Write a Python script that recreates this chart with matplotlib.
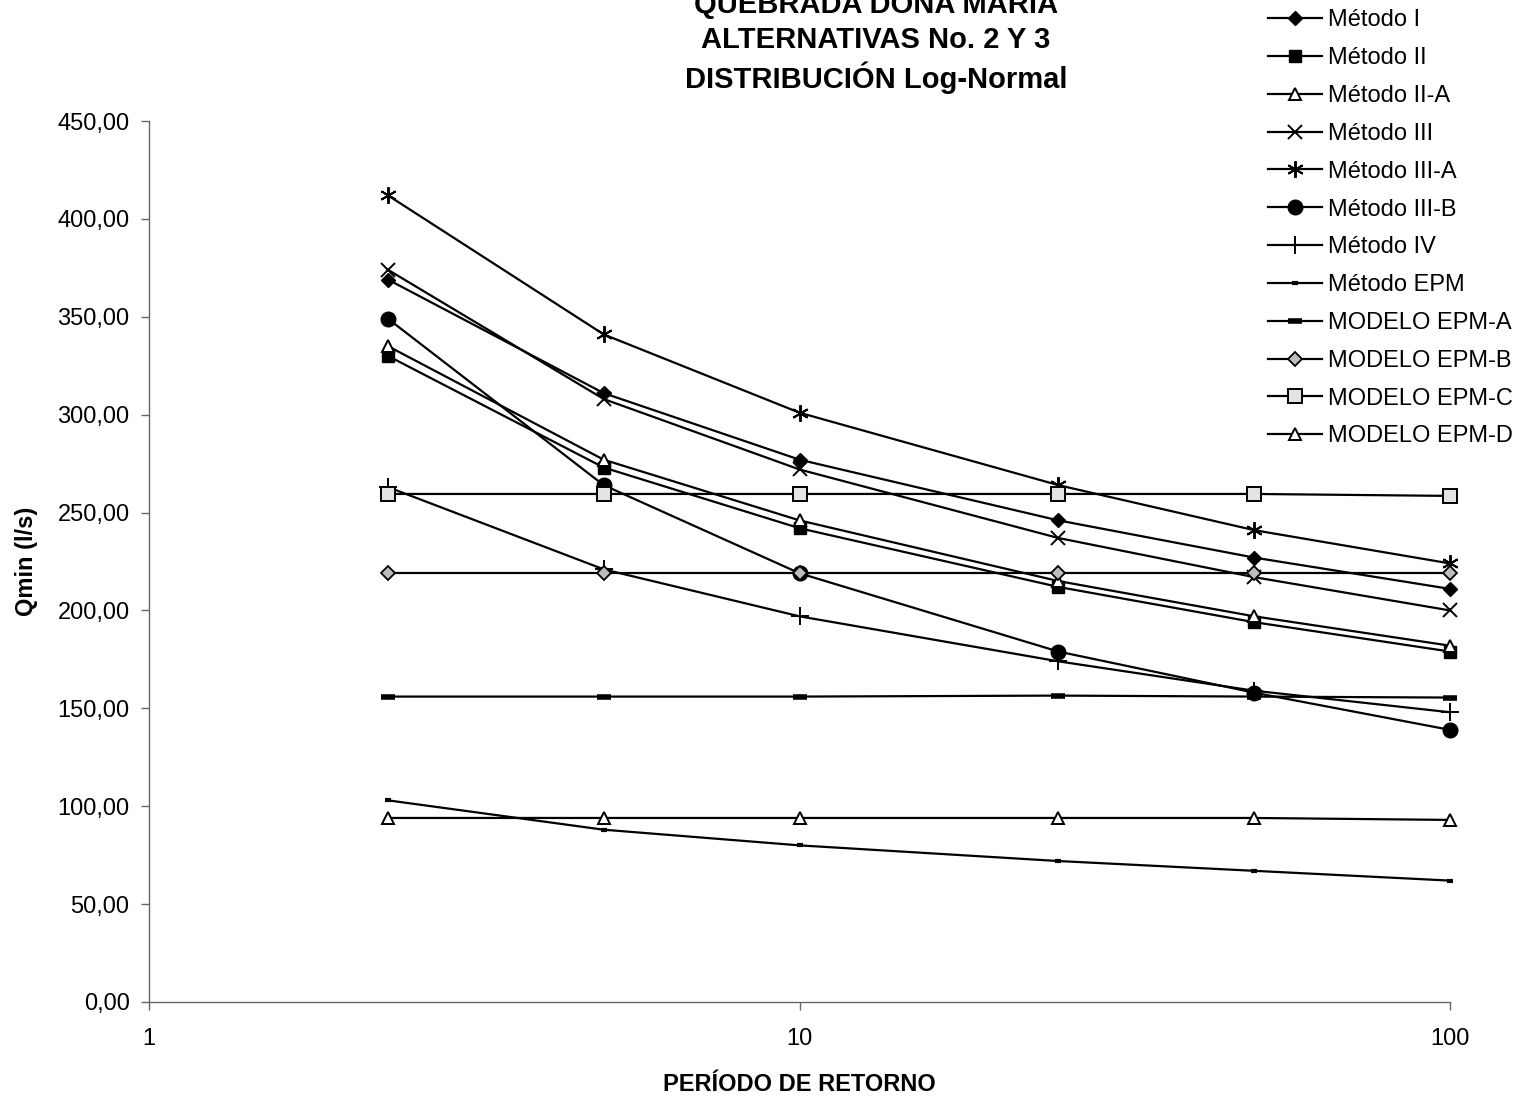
import numpy as np
import matplotlib
matplotlib.use('Agg')
import matplotlib.pyplot as plt
from matplotlib.ticker import FuncFormatter, FixedLocator, NullLocator

plt.rcParams['font.family'] = ['Liberation Sans', 'DejaVu Sans']

# return periods (years)
periodo = [2.33, 5, 10, 25, 50, 100]

metodo_i = [369, 311, 277, 246, 227, 211]
metodo_ii = [330, 273, 242, 212, 194, 179]
metodo_ii_a = [335, 277, 246, 215, 197, 182]
metodo_iii = [374, 308, 272, 237, 217, 200]
metodo_iii_a = [412, 341, 301, 264, 241, 224]
metodo_iii_b = [349, 264, 219, 179, 158, 139]
metodo_iv = [263, 221, 197, 174, 159, 148]
metodo_epm = [103, 88, 80, 72, 67, 62]
modelo_epm_a = [156, 156, 156, 156.5, 156, 155.5]
modelo_epm_b = [219, 219, 219, 219, 219, 219]
modelo_epm_c = [259.5, 259.5, 259.5, 259.5, 259.5, 258.5]
modelo_epm_d = [94, 94, 94, 94, 94, 93]

titulo = ['QUEBRADA DOÑA MARÍA', 'ALTERNATIVAS No. 2 Y 3', 'DISTRIBUCIÓN Log-Normal']

fig = plt.figure(figsize=(15.22, 11), dpi=100)
ax = fig.add_axes([0.0979, 0.0891, 0.8548, 0.8009])

lw = 1.6
series = [
    ('Método I', metodo_i, dict(marker='D', ms=7, mfc='black', mec='black')),
    ('Método II', metodo_ii, dict(marker='s', ms=8.5, mfc='black', mec='black')),
    ('Método II-A', metodo_ii_a, dict(marker='^', ms=9, mfc='white', mec='black', mew=1.4)),
    ('Método III', metodo_iii, dict(marker='x', ms=10, mec='black', mew=1.4)),
    ('Método III-A', metodo_iii_a, dict(marker=(6, 2, 0), ms=12, mec='black', mew=1.4)),
    ('Método III-B', metodo_iii_b, dict(marker='o', ms=10.5, mfc='black', mec='black')),
    ('Método IV', metodo_iv, dict(marker='+', ms=13, mec='black', mew=1.4)),
    ('Método EPM', metodo_epm, dict(marker='_', ms=5, mec='black', mew=3)),
    ('MODELO EPM-A', modelo_epm_a, dict(marker='_', ms=10, mec='black', mew=4)),
    ('MODELO EPM-B', modelo_epm_b, dict(marker='D', ms=7.5, mfc='#bdbdbd', mec='black', mew=1.3)),
    ('MODELO EPM-C', modelo_epm_c, dict(marker='s', ms=9.5, mfc='#e4e4e4', mec='black', mew=1.4)),
    ('MODELO EPM-D', modelo_epm_d, dict(marker='^', ms=9, mfc='white', mec='black', mew=1.4)),
]

for name, vals, style in series:
    ax.plot(periodo, vals, color='black', lw=lw, label=name, clip_on=False, **style)

ax.set_xscale('log')
ax.set_xlim(1, 100)
ax.set_ylim(0, 450)
ax.xaxis.set_major_locator(FixedLocator([1, 10, 100]))
ax.xaxis.set_minor_locator(NullLocator())
ax.xaxis.set_major_formatter(FuncFormatter(lambda v, p: '%d' % v))
ax.set_yticks(np.arange(0, 451, 50))
ax.yaxis.set_major_formatter(FuncFormatter(lambda v, p: ('%.2f' % v).replace('.', ',')))

for s in ['top', 'right']:
    ax.spines[s].set_visible(False)
for s in ['left', 'bottom']:
    ax.spines[s].set_linewidth(1.0)
    ax.spines[s].set_color('#666666')
ax.tick_params(axis='y', direction='out', length=6, width=1, colors='#666666', labelcolor='black', labelsize=17, pad=8)
ax.tick_params(axis='x', direction='out', length=6, width=1, colors='#666666', labelcolor='black', labelsize=17, pad=13)

ax.set_xlabel('PERÍODO DE RETORNO', fontsize=17, fontweight='bold', labelpad=16)
ax.set_ylabel('Qmin (l/s)', fontsize=17, fontweight='bold', labelpad=14)

title_y = [0.998, 0.9636, 0.929]
for line, yy in zip(titulo, title_y):
    fig.text(0.5756, yy, line, ha='center', va='center', fontsize=21, fontweight='bold')

leg = fig.legend(loc='upper left', bbox_to_anchor=(0.827, 1.0), frameon=False,
                 fontsize=17, labelspacing=0.67, handlelength=2.3, handletextpad=0.25,
                 borderaxespad=0)

fig.savefig('out.png', dpi=100)
